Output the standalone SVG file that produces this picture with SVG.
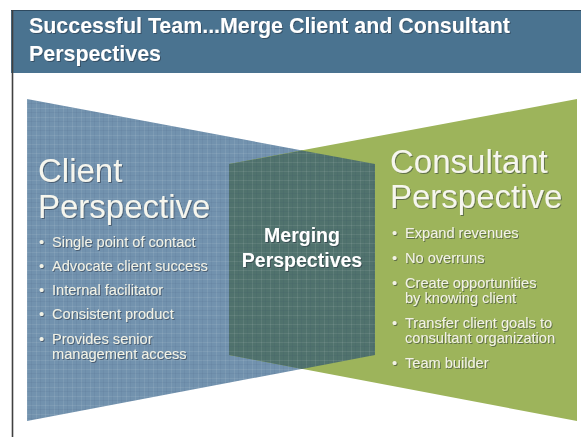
<svg xmlns="http://www.w3.org/2000/svg" width="581" height="437" viewBox="0 0 581 437">
<defs>
<style>
.title{font-family:"Liberation Sans",Arial,sans-serif;font-weight:bold;font-size:21.4px;fill:#ffffff}
.big{font-family:"Liberation Sans",Arial,sans-serif;font-size:33px;fill:#f6f6ee}
.bul{font-family:"Liberation Sans",Arial,sans-serif;font-size:14.6px;fill:#f2f2e6}
.mid{font-family:"Liberation Sans",Arial,sans-serif;font-weight:bold;font-size:19.5px;fill:#ffffff}
</style>
<pattern id="plaid" width="9" height="9" patternUnits="userSpaceOnUse">
<rect x="0" y="0" width="9" height="1" fill="#ffffff" fill-opacity="0.08"/>
<rect x="0" y="0" width="1" height="9" fill="#ffffff" fill-opacity="0.08"/>
<rect x="0" y="4" width="9" height="1" fill="#1e3a55" fill-opacity="0.06"/>
<rect x="4" y="0" width="1" height="9" fill="#1e3a55" fill-opacity="0.06"/>
</pattern>
<filter id="sh" x="-5%" y="-20%" width="110%" height="140%">
<feDropShadow dx="1" dy="1" stdDeviation="0.4" flood-color="#1d2c38" flood-opacity="0.5"/>
</filter>
</defs>
<rect x="0" y="0" width="581" height="437" fill="#ffffff"/>
<g id="frame">
<rect x="11" y="10" width="572" height="63" fill="#4a7390"/>
<line x1="11" y1="10.5" x2="581" y2="10.5" stroke="#2e4a60" stroke-width="1"/>
<line x1="12.5" y1="10" x2="12.5" y2="437" stroke="#404040" stroke-width="1.6"/>
</g>
<g id="title" filter="url(#sh)">
<text class="title" x="29" y="33">Successful Team...Merge Client and Consultant</text>
<text class="title" x="29" y="61">Perspectives</text>
</g>
<g id="client">
<polygon points="27,99 375,164 375,355 27,421" fill="#7292ae"/>
<polygon points="27,99 375,164 375,355 27,421" fill="url(#plaid)"/>
</g>
<g id="consultant">
<polygon points="577,99 577,421 229,355 229,164" fill="#9db45b"/>
</g>
<g id="merging">
<polygon points="229,164 302,150.5 375,164 375,355 302,369 229,355" fill="#50726d"/>
<polygon points="229,164 302,150.5 375,164 375,355 302,369 229,355" fill="url(#plaid)"/>
</g>
<g id="client-text" filter="url(#sh)">
<text class="big" x="38" y="182">Client</text>
<text class="big" x="38" y="218">Perspective</text>
<g class="bul">
<text x="39" y="247">•</text><text x="52" y="247">Single point of contact</text>
<text x="39" y="271">•</text><text x="52" y="271">Advocate client success</text>
<text x="39" y="295">•</text><text x="52" y="295">Internal facilitator</text>
<text x="39" y="319">•</text><text x="52" y="319">Consistent product</text>
<text x="39" y="344">•</text><text x="52" y="344">Provides senior</text>
<text x="52" y="359">management access</text>
</g>
</g>
<g id="merging-text" filter="url(#sh)">
<text class="mid" x="302" y="242" text-anchor="middle">Merging</text>
<text class="mid" x="302" y="267" text-anchor="middle">Perspectives</text>
</g>
<g id="consultant-text" filter="url(#sh)">
<text class="big" x="390" y="173">Consultant</text>
<text class="big" x="390" y="208">Perspective</text>
<g class="bul">
<text x="392" y="238">•</text><text x="405" y="238">Expand revenues</text>
<text x="392" y="263">•</text><text x="405" y="263">No overruns</text>
<text x="392" y="288">•</text><text x="405" y="288">Create opportunities</text>
<text x="405" y="303">by knowing client</text>
<text x="392" y="328">•</text><text x="405" y="328">Transfer client goals to</text>
<text x="405" y="343">consultant organization</text>
<text x="392" y="368">•</text><text x="405" y="368">Team builder</text>
</g>
</g>
</svg>
